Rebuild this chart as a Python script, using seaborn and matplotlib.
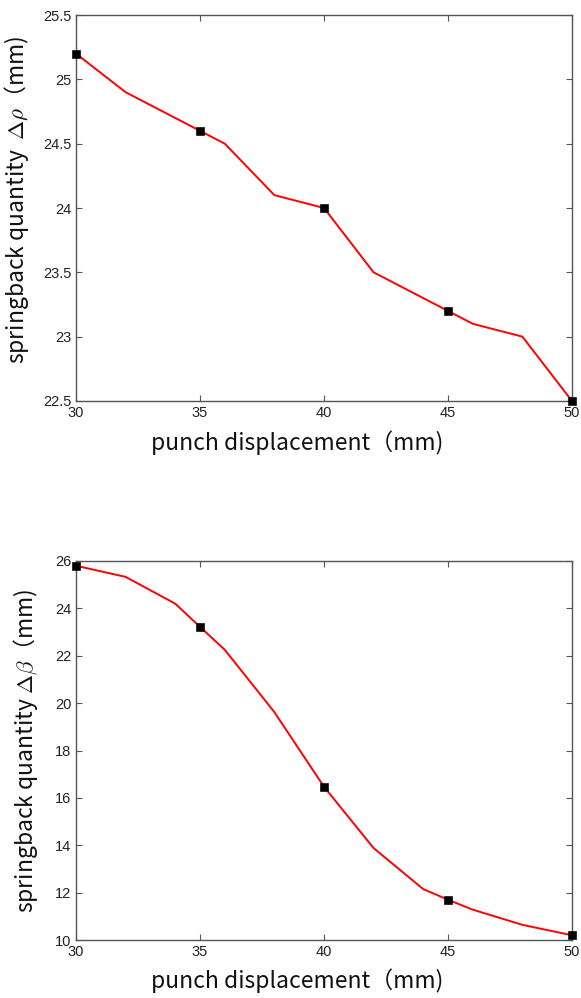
import numpy as np
import pandas as pd
import matplotlib
matplotlib.use('Agg')
import matplotlib.pyplot as plt
import seaborn as sns

# Daten
displacement = [30, 32, 34, 35, 36, 38, 40, 42, 44, 45, 46, 48, 50]
delta_rho = [25.2, 24.9, 24.7, 24.6, 24.5, 24.1, 24.0, 23.5, 23.3, 23.2, 23.1, 23.0, 22.5]
delta_beta = [25.8, 25.33, 24.2, 23.22, 22.25, 19.62, 16.47, 13.88, 12.15, 11.7, 11.28, 10.64, 10.2]
marker_x = [30, 35, 40, 45, 50]

df = pd.DataFrame({'x': displacement, 'rho': delta_rho, 'beta': delta_beta})
marks = df[df['x'].isin(marker_x)]

sns.set_style('ticks')
plt.rcParams['font.family'] = ['Noto Sans CJK SC', 'DejaVu Sans']
plt.rcParams['mathtext.fontset'] = 'cm'

fig = plt.figure(figsize=(5.81, 9.98), dpi=100)
W, H = 581, 998
ax1 = fig.add_axes([76 / W, 1 - 401 / H, (572 - 76) / W, (401 - 15) / H])
ax2 = fig.add_axes([76 / W, 1 - 940 / H, (572 - 76) / W, (940 - 561) / H])

label_font = dict(fontsize=16.5, color='#111111', family=['Noto Sans CJK SC', 'DejaVu Sans'])


def style_axis(ax, ylim, yticks, ylabel):
    ax.set_xlim(30, 50)
    ax.set_ylim(*ylim)
    ax.set_xticks([30, 35, 40, 45, 50])
    ax.set_yticks(yticks)
    ax.tick_params(direction='in', top=True, right=True, length=4, width=0.8,
                   colors='#555555', labelcolor='#222222', labelsize=10.5)
    for lab in ax.get_xticklabels() + ax.get_yticklabels():
        lab.set_family(['Liberation Sans', 'DejaVu Sans'])
    for sp in ax.spines.values():
        sp.set_visible(True)
        sp.set_color('#555555')
        sp.set_linewidth(1.0)
    ax.set_xlabel('punch displacement（mm)', **label_font)
    ax.set_ylabel(ylabel, **label_font)
    ax.xaxis.set_label_coords(0.446, -0.075)
    ax.yaxis.set_label_coords(-0.083, 0.5)


# oberes Diagramm: Delta rho
sns.lineplot(data=df, x='x', y='rho', color='red', linewidth=1.4, ax=ax1)
sns.scatterplot(data=marks, x='x', y='rho', color='black', marker='s', s=30,
                edgecolor='black', zorder=5, clip_on=False, ax=ax1)
style_axis(ax1, (22.5, 25.5), [22.5, 23, 23.5, 24, 24.5, 25, 25.5],
           r'springback quantity  $\Delta\rho$（mm)')
ax1.set_yticklabels(['22.5', '23', '23.5', '24', '24.5', '25', '25.5'])
ax1.yaxis.set_label_coords(-0.09, 0.52)

# unteres Diagramm: Delta beta
sns.lineplot(data=df, x='x', y='beta', color='red', linewidth=1.4, ax=ax2)
sns.scatterplot(data=marks, x='x', y='beta', color='black', marker='s', s=30,
                edgecolor='black', zorder=5, clip_on=False, ax=ax2)
style_axis(ax2, (10, 26), [10, 12, 14, 16, 18, 20, 22, 24, 26],
           r'springback quantity $\Delta\beta$（mm)')
ax2.yaxis.set_label_coords(-0.072, 0.5)

fig.savefig('out.png', dpi=100)
